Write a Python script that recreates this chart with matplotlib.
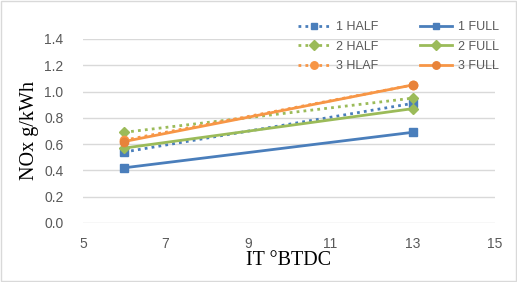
import matplotlib
matplotlib.use("Agg")
import matplotlib.pyplot as plt

x = [6, 13]
half1 = [0.54, 0.91]
full1 = [0.42, 0.69]
half2 = [0.69, 0.95]
full2 = [0.57, 0.87]
half3 = [0.63, 1.05]
full3 = [0.62, 1.05]
labels = ["1 HALF", "2 HALF", "3 HLAF", "1 FULL", "2 FULL", "3 FULL"]
xticks = [5, 7, 9, 11, 13, 15]
yticks = [0.0, 0.2, 0.4, 0.6, 0.8, 1.0, 1.2, 1.4]

blue = "#4A7EBB"
green = "#9BBB59"
orange_l = "#F79646"
orange_d = "#E8833A"

fig = plt.figure(figsize=(5.17, 2.82), dpi=100)
fig.patch.set_facecolor("white")
ax = fig.add_axes([83/517, 1-223/282, (495-83)/517, (223-39)/282])

h = {}
h["1 HALF"], = ax.plot(x, half1, ls=(0, (1, 1.5)), color=blue, lw=2, marker="s", ms=5.5)
h["2 HALF"], = ax.plot(x, half2, ls=(0, (1, 1.5)), color=green, lw=2, marker="D", ms=5.5)
h["3 HLAF"], = ax.plot(x, half3, ls=(0, (1, 1.5)), color=orange_l, lw=2, marker="o", ms=6)
h["1 FULL"], = ax.plot(x, full1, ls="-", color=blue, lw=2, marker="s", ms=5.5)
h["2 FULL"], = ax.plot(x, full2, ls="-", color=green, lw=2, marker="D", ms=5.5)
h["3 FULL"], = ax.plot(x, full3, ls="-", color=orange_l, lw=2, marker="o", ms=6,
                       mfc=orange_d, mec=orange_d)

ax.set_xlim(5, 15)
ax.set_ylim(0, 1.4)
ax.set_xticks(xticks)
ax.set_yticks(yticks)
ax.set_yticklabels([f"{v:.1f}" for v in yticks])
ax.grid(axis="y", color="#D9D9D9", lw=1)
ax.set_axisbelow(True)
for s in ax.spines.values():
    s.set_visible(False)
ax.tick_params(length=0, labelsize=10, colors="#595959")
ax.tick_params(axis="x", pad=10)
ax.tick_params(axis="y", pad=14)
for t in ax.get_xticklabels() + ax.get_yticklabels():
    t.set_family("Liberation Sans")

ax.set_xlabel("IT °BTDC", family="Liberation Serif", fontsize=14.5, labelpad=0)
ax.set_ylabel("NOx g/kWh", family="Liberation Serif", fontsize=14.5, labelpad=4)

leg = ax.legend([h[l] for l in labels], labels, ncol=2, frameon=False,
                loc="upper left", bbox_to_anchor=(293/517, 1-16/282),
                bbox_transform=fig.transFigure,
                prop={"family": "Liberation Sans", "size": 9},
                handlelength=2.6, columnspacing=3.3, labelspacing=0.6,
                handletextpad=0.45, borderaxespad=0, markerscale=0.9)
for t in leg.get_texts():
    t.set_color("#595959")

fig.add_artist(plt.Rectangle((0.001, 0.002), 0.997, 0.995, transform=fig.transFigure,
                             fill=False, ec="#D9D9D9", lw=1))

fig.savefig("out.png", dpi=100)
